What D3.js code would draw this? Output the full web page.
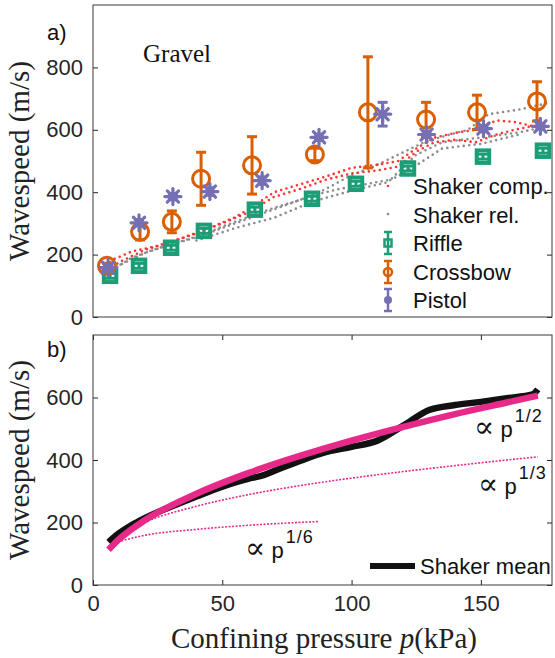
<!DOCTYPE html>
<html>
<head>
<meta charset="utf-8">
<script src="https://cdn.jsdelivr.net/npm/d3@7"></script>
<style>
  body { margin: 0; background: #fff; }
  .tick text { font-family: "Liberation Sans", Arial, sans-serif; font-size: 22px; fill: #262626; }
  .tick line { stroke: #262626; }
</style>
</head>
<body>
<div id="chart"></div>
<script>
// ---- data ----
// a) gravel, impact sources: pressure (kPa), wavespeed (m/s), error half-width
var riffleP   = [6.6, 17.8, 30.2, 42.9, 62.6, 84.7, 101.7, 121.8, 150.8, 174];
var riffleV   = [132, 164, 222, 276, 344, 379, 427, 476, 514, 533];
var riffleErr = [8, 8, 8, 8, 8, 8, 8, 8, 8, 8];

var crossbowP   = [5.4, 18.2, 30.5, 41.8, 61.5, 85.8, 106.3, 128.8, 148.5, 171.7];
var crossbowV   = [164, 273, 305, 443, 486, 521, 656, 633, 656, 691];
var crossbowErr = [8, 26, 35, 85, 92, 20, 178, 55, 55, 63];

var pistolP   = [5.8, 17.8, 30.9, 45.2, 65.4, 87.4, 112, 129, 151, 173];
var pistolV   = [158, 302, 386, 402, 437, 576, 650, 585, 604, 611];
var pistolErr = [10, 10, 10, 12, 12, 10, 38, 10, 10, 8];

// shaker runs (dotted traces), [p, v]
var shakerComp1 = [[5,165],[8,185],[15,210],[25,228],[35,255],[45,285],[55,320],[62,355],[70,400],[80,425],[90,450],[100,478],[110,488],[118,500],[125,540],[132,575],[140,590],[148,600],[156,630],[163,625],[170,612]];
var shakerComp2 = [[6,150],[10,175],[20,215],[30,240],[40,268],[50,300],[60,335],[70,385],[80,410],[90,440],[100,460],[110,470],[118,482],[125,530],[132,560],[140,568],[148,560],[156,585],[163,600],[170,612]];
var shakerRel1 = [[6,140],[10,165],[20,205],[30,232],[40,255],[50,290],[60,320],[70,350],[80,375],[90,410],[100,455],[108,480],[118,520],[128,560],[138,585],[145,600],[153,650],[165,665],[177,688]];
var shakerRel2 = [[7,150],[15,190],[25,220],[35,245],[45,270],[55,300],[65,330],[75,360],[85,390],[95,410],[105,425],[115,440],[125,520],[135,560],[145,570],[155,580],[165,592],[175,610]];
var shakerRel3 = [[40,245],[55,285],[70,318],[85,370],[100,405],[113,430],[122,470],[135,540],[150,555],[165,585]];

// b) shaker mean and power-law guides
var meanP = [6, 10, 15, 20, 30, 40, 50, 60, 65, 70, 80, 90, 100, 110, 120, 130, 140, 150, 160, 170, 172];
var meanV = [137, 165, 192, 214, 250, 283, 315, 340, 349, 365, 397, 425, 442, 462, 510, 560, 576, 586, 598, 610, 626];
var halfP = [6, 10, 20, 40, 60, 80, 100, 120, 140, 160, 172];
var halfV = [113, 146, 207, 292, 358, 413, 462, 506, 547, 584, 606];
var thirdP = [7, 20, 40, 60, 80, 100, 120, 140, 160, 172];
var thirdV = [140, 200, 252, 289, 318, 342, 363, 382, 400, 410];
var sixthP = [7, 20, 40, 60, 87];
var sixthV = [132, 159, 178, 191, 203];

var xTicks = [0, 50, 100, 150];
var yTicksA = [0, 200, 400, 600, 800];
var yTicksB = [0, 200, 400, 600];

var legendA = ["Shaker comp.", "Shaker rel.", "Riffle", "Crossbow", "Pistol"];

// ---- setup ----
var width = 555, height = 658;
var sans = '"Liberation Sans", Arial, sans-serif',
    serif = '"Liberation Serif", "Times New Roman", serif';
var col = {riffle: "#1b9e77", crossbow: "#d95f02", pistol: "#7570b3", comp: "#ff3333", rel: "#8c8c8c", fit: "#e7298a"};

var x = d3.scaleLinear().domain([0, 177.5]).range([93, 552]);
var yA = d3.scaleLinear().domain([0, 1000]).range([317, 5]);
var yB = d3.scaleLinear().domain([0, 800]).range([585, 335]);

var svg = d3.select("#chart").append("svg")
    .attr("width", width)
    .attr("height", height);

function frame(y, top, bottom, showX) {
    var g = svg.append("g");
    g.append("g")
        .attr("transform", "translate(93,0)")
        .call(d3.axisLeft(y).tickValues(y === yA ? yTicksA : yTicksB).tickSizeInner(-5).tickSizeOuter(0).tickPadding(10))
        .call(function (a) { a.select(".domain").remove(); });
    g.append("g")
        .attr("transform", "translate(552,0)")
        .call(d3.axisRight(y).tickValues(y === yA ? yTicksA : yTicksB).tickSizeInner(-5).tickSizeOuter(0).tickFormat(""))
        .call(function (a) { a.select(".domain").remove(); });
    if (showX) {
        g.append("g")
            .attr("transform", "translate(0," + bottom + ")")
            .call(d3.axisBottom(x).tickValues(xTicks).tickSizeInner(-5).tickSizeOuter(0).tickPadding(10))
            .call(function (a) { a.select(".domain").remove(); });
        g.append("g")
            .attr("transform", "translate(0," + top + ")")
            .call(d3.axisTop(x).tickValues(xTicks).tickSizeInner(-5).tickSizeOuter(0).tickFormat(""))
            .call(function (a) { a.select(".domain").remove(); });
    }
    g.append("rect")
        .attr("x", 93).attr("y", top)
        .attr("width", 552 - 93).attr("height", bottom - top)
        .attr("fill", "none").attr("stroke", "#3a3a3a").attr("stroke-width", 1);
}

frame(yA, 5, 317, false);
frame(yB, 335, 585, true);

// ---- panel a ----
var pa = svg.append("g");
var lineA = d3.line().x(function (d) { return x(d[0]); }).y(function (d) { return yA(d[1]); });

function dotted(data, color) {
    pa.append("path")
        .attr("d", lineA(data))
        .attr("fill", "none")
        .attr("stroke", color)
        .attr("stroke-width", 2.6)
        .attr("stroke-linecap", "round")
        .attr("stroke-dasharray", "0,5.5");
}
[shakerRel1, shakerRel2, shakerRel3].forEach(function (d) { dotted(d, col.rel); });
[shakerComp1, shakerComp2].forEach(function (d) { dotted(d, col.comp); });

function errbar(g, cx, cy1, cy2, color) {
    g.append("line").attr("x1", cx).attr("x2", cx).attr("y1", cy1).attr("y2", cy2)
        .attr("stroke", color).attr("stroke-width", 3);
    [cy1, cy2].forEach(function (yy) {
        g.append("line").attr("x1", cx - 5).attr("x2", cx + 5).attr("y1", yy).attr("y2", yy)
            .attr("stroke", color).attr("stroke-width", 3);
    });
}

function square(g, cx, cy, s, color) {
    g.append("rect").attr("x", cx - s / 2).attr("y", cy - s / 2).attr("width", s).attr("height", s)
        .attr("fill", "none").attr("stroke", color).attr("stroke-width", 4);
}
function ring(g, cx, cy, r, color) {
    g.append("circle").attr("cx", cx).attr("cy", cy).attr("r", r)
        .attr("fill", "none").attr("stroke", color).attr("stroke-width", 3);
}
function star(g, cx, cy, r, color) {
    [0, 45, 90, 135].forEach(function (a) {
        var dx = r * Math.cos(a * Math.PI / 180), dy = r * Math.sin(a * Math.PI / 180);
        g.append("line").attr("x1", cx - dx).attr("x2", cx + dx).attr("y1", cy - dy).attr("y2", cy + dy)
            .attr("stroke", color).attr("stroke-width", 3.2).attr("stroke-linecap", "round");
    });
    g.append("circle").attr("cx", cx).attr("cy", cy).attr("r", r * 0.55).attr("fill", color).attr("opacity", 0.85);
}

riffleP.forEach(function (p, i) {
    errbar(pa, x(p), yA(riffleV[i] + riffleErr[i]), yA(riffleV[i] - riffleErr[i]), col.riffle);
    square(pa, x(p), yA(riffleV[i]), 12.5, col.riffle);
});
crossbowP.forEach(function (p, i) {
    errbar(pa, x(p), yA(crossbowV[i] + crossbowErr[i]), yA(crossbowV[i] - crossbowErr[i]), col.crossbow);
    ring(pa, x(p), yA(crossbowV[i]), 8.5, col.crossbow);
});
pistolP.forEach(function (p, i) {
    errbar(pa, x(p), yA(pistolV[i] + pistolErr[i]), yA(pistolV[i] - pistolErr[i]), col.pistol);
    star(pa, x(p), yA(pistolV[i]), 8, col.pistol);
});

pa.append("text").attr("x", 143).attr("y", 62)
    .style("font-family", serif).style("font-size", "25px").attr("fill", "#111").text("Gravel");

// legend a
var lg = svg.append("g").style("font-family", sans).style("font-size", "22px");
var lx = 388, rowY = [194, 223, 251, 280, 308];
legendA.forEach(function (name, i) {
    lg.append("text").attr("x", 413).attr("y", rowY[i]).attr("fill", "#111").text(name);
});
lg.append("circle").attr("cx", lx).attr("cy", rowY[0] - 8).attr("r", 1.3).attr("fill", col.comp);
lg.append("circle").attr("cx", lx).attr("cy", rowY[1] - 9).attr("r", 1.3).attr("fill", col.rel);
function legErr(i, color) {
    var c = rowY[i] - 8;
    lg.append("line").attr("x1", lx).attr("x2", lx).attr("y1", c - 11).attr("y2", c + 11)
        .attr("stroke", color).attr("stroke-width", 2.5);
    [c - 11, c + 11].forEach(function (yy) {
        lg.append("line").attr("x1", lx - 4).attr("x2", lx + 4).attr("y1", yy).attr("y2", yy)
            .attr("stroke", color).attr("stroke-width", 2.5);
    });
    return c;
}
var c2 = legErr(2, col.riffle);
lg.append("rect").attr("x", lx - 3.5).attr("y", c2 - 3.5).attr("width", 7).attr("height", 7)
    .attr("fill", "none").attr("stroke", col.riffle).attr("stroke-width", 2.5);
var c3 = legErr(3, col.crossbow);
lg.append("circle").attr("cx", lx).attr("cy", c3).attr("r", 4).attr("fill", "none")
    .attr("stroke", col.crossbow).attr("stroke-width", 2.5);
var c4 = legErr(4, col.pistol);
lg.append("circle").attr("cx", lx).attr("cy", c4).attr("r", 4).attr("fill", col.pistol);

// ---- panel b ----
var pb = svg.append("g");
var lineB = d3.line().x(function (d) { return x(d[0]); }).y(function (d) { return yB(d[1]); }).curve(d3.curveMonotoneX);

pb.append("path").attr("d", lineB(sixthP.map(function (p, i) { return [p, sixthV[i]]; })))
    .attr("fill", "none").attr("stroke", col.fit).attr("stroke-width", 1.6).attr("stroke-dasharray", "2,1.5");
pb.append("path").attr("d", lineB(thirdP.map(function (p, i) { return [p, thirdV[i]]; })))
    .attr("fill", "none").attr("stroke", col.fit).attr("stroke-width", 1.6).attr("stroke-dasharray", "2,1.5");
pb.append("path").attr("d", lineB(meanP.map(function (p, i) { return [p, meanV[i]]; })))
    .attr("fill", "none").attr("stroke", "#111").attr("stroke-width", 6.5);
pb.append("path").attr("d", lineB(halfP.map(function (p, i) { return [p, halfV[i]]; })))
    .attr("fill", "none").attr("stroke", col.fit).attr("stroke-width", 6.5);

function powerLabel(px, py, exp) {
    var t = pb.append("text").attr("x", px).attr("y", py)
        .style("font-family", sans).style("font-size", "22px").attr("fill", "#111");
    t.append("tspan").style("font-family", '"DejaVu Serif", serif').style("font-size", "30px").text("\u221D");
    t.append("tspan").text(" p");
    t.append("tspan").attr("dy", -15).attr("dx", 2).style("font-size", "18px").style("letter-spacing", "1px").text(exp);
}
powerLabel(474, 437, "1/2");
powerLabel(478, 494, "1/3");
powerLabel(245, 558, "1/6");

// legend b
pb.append("line").attr("x1", 370).attr("x2", 415).attr("y1", 566).attr("y2", 566)
    .attr("stroke", "#111").attr("stroke-width", 6);
pb.append("text").attr("x", 420).attr("y", 574)
    .style("font-family", sans).style("font-size", "22px").attr("fill", "#111").text("Shaker mean");

// ---- labels ----
svg.append("text").attr("x", 47).attr("y", 40)
    .style("font-family", sans).style("font-size", "22px").attr("fill", "#111").text("a)");
svg.append("text").attr("x", 47).attr("y", 357)
    .style("font-family", sans).style("font-size", "22px").attr("fill", "#111").text("b)");

[161, 460].forEach(function (cy) {
    svg.append("text")
        .attr("transform", "translate(29," + cy + ")rotate(-90)")
        .attr("text-anchor", "middle")
        .style("font-family", serif).style("font-size", "29px").attr("fill", "#222")
        .text("Wavespeed (m/s)");
});

var xl = svg.append("text").attr("x", 324).attr("y", 648).attr("text-anchor", "middle")
    .style("font-family", serif).style("font-size", "29px").attr("fill", "#222");
xl.append("tspan").text("Confining pressure ");
xl.append("tspan").style("font-style", "italic").text("p");
xl.append("tspan").text("(kPa)");
</script>
</body>
</html>
